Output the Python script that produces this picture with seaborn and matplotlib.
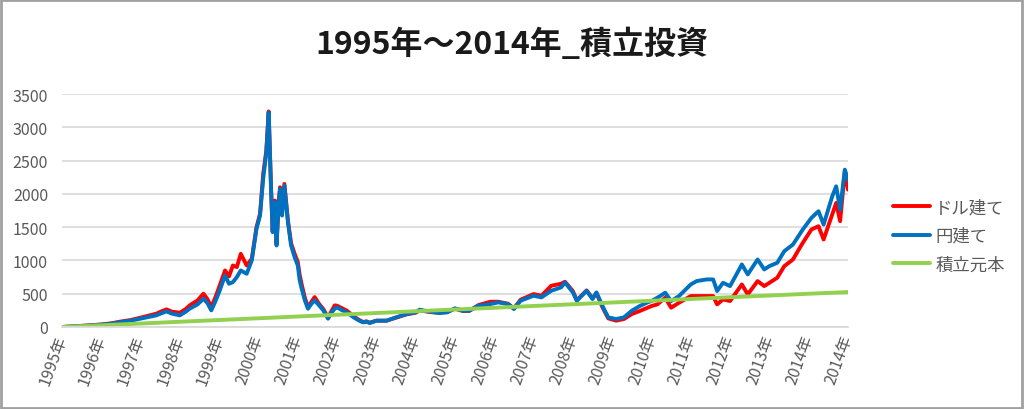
import numpy as np
import pandas as pd
import matplotlib
matplotlib.use("Agg")
import matplotlib.pyplot as plt
import seaborn as sns
from matplotlib.patches import Rectangle

# 経過年数 (1995年初 = 0)
t = [0.0, 0.25, 0.5, 0.75, 1.0, 1.25, 1.5, 1.75, 2.0, 2.2, 2.4, 2.55, 2.66, 2.8,
     3.0, 3.15, 3.25, 3.45, 3.6, 3.7, 3.8, 3.9, 4.0, 4.15, 4.25, 4.35, 4.45, 4.55,
     4.7, 4.83, 4.95, 5.04, 5.12, 5.2, 5.26, 5.32, 5.36, 5.42, 5.46, 5.52, 5.55,
     5.6, 5.66, 5.75, 5.83, 5.92, 6.0, 6.05, 6.1, 6.18, 6.26, 6.35, 6.43, 6.55,
     6.65, 6.77, 6.85, 6.94, 7.0, 7.1, 7.25, 7.42, 7.55, 7.66, 7.75, 7.83, 8.0,
     8.26, 8.5, 8.77, 9.0, 9.1, 9.36, 9.6, 9.8, 10.0, 10.2, 10.36, 10.6, 10.9,
     11.1, 11.35, 11.5, 11.67, 12.0, 12.2, 12.45, 12.7, 12.8, 13.0, 13.1, 13.35,
     13.5, 13.6, 13.75, 13.9, 14.1, 14.3, 14.5, 14.7, 14.9, 15.0, 15.15, 15.35,
     15.5, 15.7, 16.0, 16.15, 16.4, 16.57, 16.67, 16.82, 17.0, 17.3, 17.45, 17.7,
     17.87, 18.0, 18.2, 18.38, 18.6, 18.85, 19.07, 19.25, 19.38, 19.6, 19.7, 19.8,
     19.92, 20.0]

yen = [0, 8, 16, 25, 35, 50, 75, 95, 125, 150, 175, 210, 235, 200,
       175, 230, 275, 340, 425, 360, 250, 380, 525, 775, 650, 675, 750, 850,
       800, 1000, 1475, 1675, 2225, 2625, 3225, 2075, 1425, 1875, 1225, 1900, 2075,
       1675, 2125, 1575, 1225, 1050, 925, 700, 575, 400, 275, 350, 400, 320,
       250, 125, 210, 275, 295, 260, 220, 145, 100, 70, 80, 60, 95,
       95, 145, 195, 220, 260, 230, 210, 220, 280, 245, 245, 320, 345,
       370, 345, 270, 395, 470, 445, 545, 595, 670, 520, 395, 545,
       420, 520, 320, 145, 120, 145, 245, 315, 370, 390, 440, 515,
       390, 465, 640, 690, 715, 715, 540, 665, 615, 940, 790, 1015,
       865, 915, 965, 1140, 1240, 1465, 1640, 1740, 1540, 1965, 2115, 1765,
       2365, 2215]

dollar = [0, 8, 17, 27, 38, 55, 82, 105, 140, 170, 200, 240, 265, 230,
          215, 270, 325, 400, 500, 420, 300, 440, 600, 850, 760, 925, 900, 1100,
          925, 1025, 1500, 1700, 2300, 2650, 3240, 2100, 1450, 1900, 1250, 1925, 2100,
          1700, 2150, 1600, 1260, 1100, 980, 780, 640, 440, 300, 380, 450, 340,
          270, 140, 230, 325, 320, 290, 245, 160, 110, 75, 85, 65, 95,
          95, 140, 190, 215, 250, 225, 215, 225, 275, 240, 240, 330, 380,
          380, 350, 280, 410, 495, 470, 620, 650, 680, 540, 400, 550,
          430, 510, 300, 130, 95, 120, 195, 240, 290, 315, 340, 440,
          290, 365, 465, 465, 465, 465, 340, 415, 390, 640, 490, 690,
          615, 665, 740, 915, 1015, 1265, 1465, 1515, 1315, 1690, 1865, 1590,
          2340, 2065]

t_principal = [0, 1, 2, 3, 4, 5, 6, 7, 8, 9, 10, 11, 12, 13, 14, 15, 16, 17, 18, 19, 20]
principal = [0, 26, 52, 79, 105, 131, 158, 184, 210, 237, 263, 289, 316, 342,
             368, 394, 421, 447, 473, 500, 525]

year_labels = ["1995年", "1996年", "1997年", "1998年", "1999年", "2000年", "2001年",
               "2002年", "2003年", "2004年", "2005年", "2006年", "2007年", "2008年",
               "2009年", "2010年", "2011年", "2012年", "2013年", "2014年", "2014年"]

sns.set_theme(style="white")
plt.rcParams["font.family"] = ["Noto Sans CJK JP", "DejaVu Sans"]

fig = plt.figure(figsize=(10.24, 4.10), dpi=100)
ax = fig.add_axes([0.0605, 0.2, 0.7676, 0.568])

sns.lineplot(x=t, y=dollar, ax=ax, color="#ff0000", lw=2.8, label="ドル建て")
sns.lineplot(x=t, y=yen, ax=ax, color="#0070c0", lw=2.8, label="円建て")
sns.lineplot(x=t_principal, y=principal, ax=ax, color="#92d050", lw=2.8, label="積立元本")

ax.set_xlim(0, 20)
ax.set_ylim(0, 3500)
ax.set_yticks(np.arange(0, 3501, 500))
ax.set_xticks(range(21))
ax.set_xticklabels(year_labels, rotation=70, ha="right", va="center",
                   rotation_mode="anchor")
ax.grid(axis="y", color="#d9d9d9", lw=1.2)
ax.set_axisbelow(True)
for s in ["top", "right", "left"]:
    ax.spines[s].set_visible(False)
ax.spines["bottom"].set_color("#d9d9d9")
ax.tick_params(axis="both", length=0, colors="#595959", labelsize=11.5)
ax.tick_params(axis="y", pad=10)
ax.tick_params(axis="x", pad=6)

ax.get_legend().remove()
fig.legend(loc="center left", bbox_to_anchor=(0.864, 0.422), frameon=False,
           fontsize=12.5, handlelength=2.1, handletextpad=0.3, labelspacing=0.6,
           borderpad=0, labelcolor="#595959")

fig.text(0.5, 0.89, "1995年～2014年_積立投資", ha="center", va="center",
         fontsize=23, fontweight="bold", color="#1a1a1a")

fig.patches.append(Rectangle((0.001, 0.002), 0.997, 0.996, transform=fig.transFigure,
                             fill=False, edgecolor="#a0a0a0", lw=2))

fig.savefig("out.png", dpi=100)
